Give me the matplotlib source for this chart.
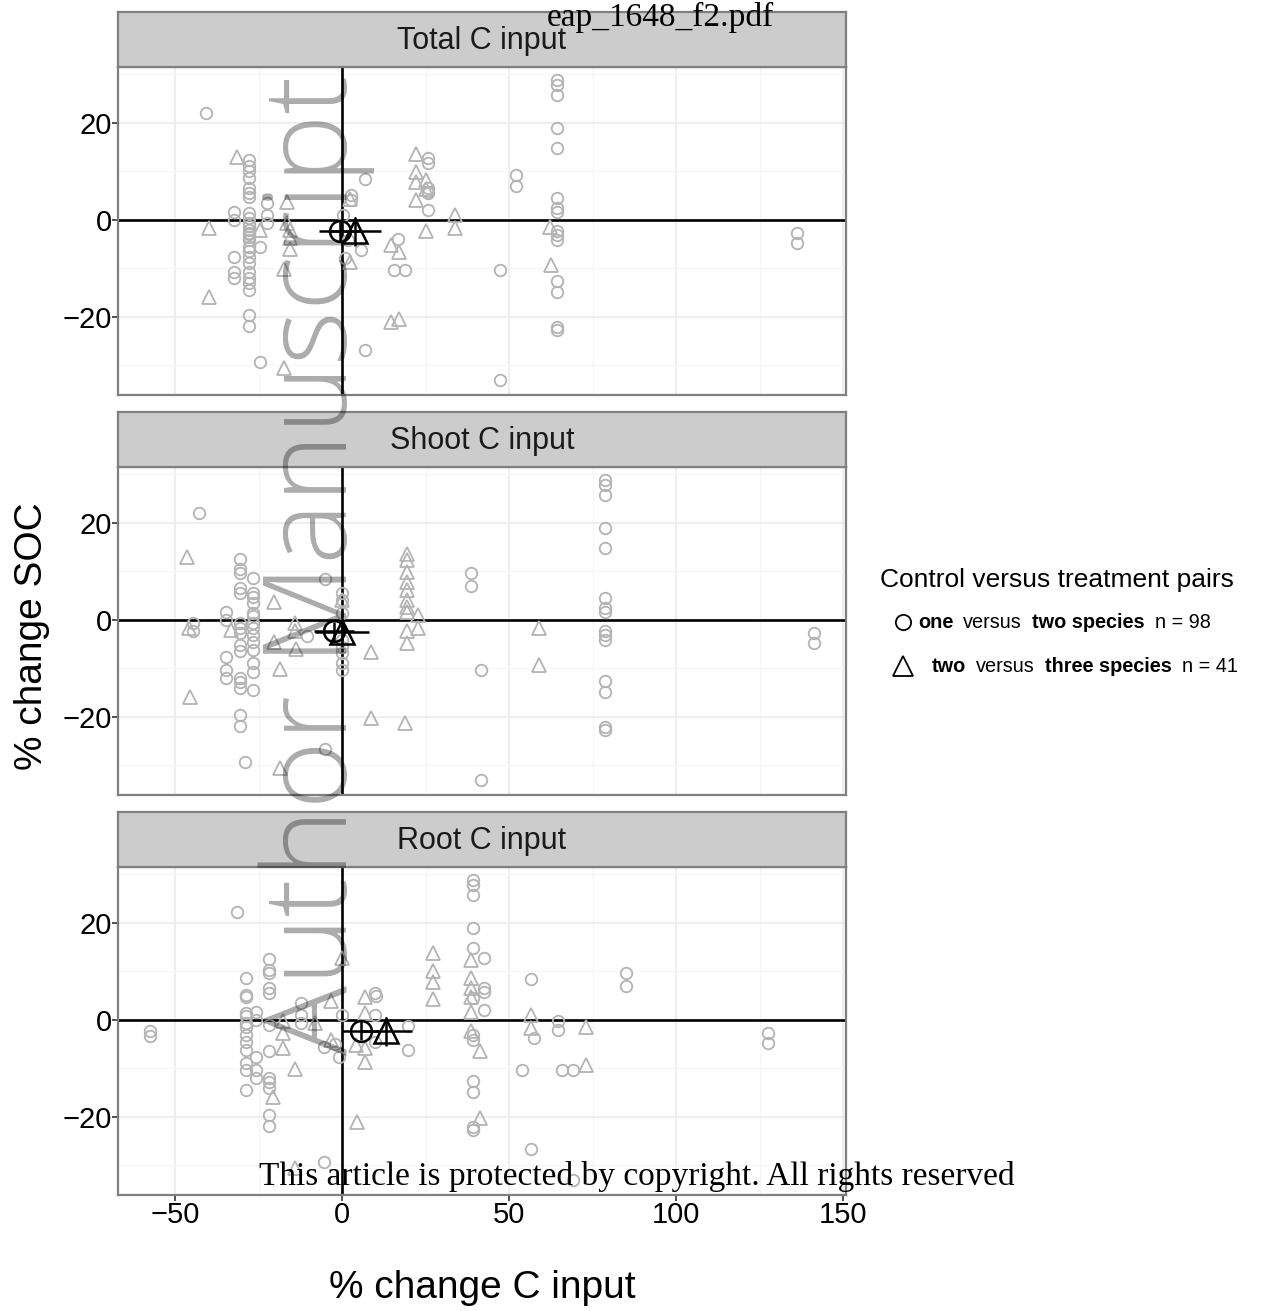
import matplotlib
matplotlib.use('Agg')
import matplotlib.pyplot as plt

# ---- data ----
panel_titles = ['Total C input', 'Shoot C input', 'Root C input']

total_circle_x = [-40.6] + [-28] * 26 + [-32.3] * 5 + [-22.4] * 3 + [-24.5] * 2 + \
    [2.8, 2.8, 0.2, 1.8, 0.8, 5.6, 7.0, 7.0, 16.6, 15.6, 18.8] + [25.7] * 6 + \
    [47.3, 47.3, 52.0, 52.0] + [64.3] * 15 + [136.1, 136.1]
total_circle_y = [22.1,
                  12.3, 11.0, 10.0, 8.6, 6.5, 5.5, 4.8, 1.4, 0.3, -0.6, -1.3, -2.0, -2.8, -3.5,
                  -4.2, -5.5, -6.5, -7.6, -8.9, -10.7, -12.0, -13.0, -14.4, -19.6, -21.8, -3.0,
                  1.7, 0.0, -7.6, -10.7, -12.0,
                  3.4, 1.0, -0.7,
                  -5.5, -29.4,
                  5.2, 4.0, 1.0, -4.1, -7.9, -6.2, 8.5, -26.8, -3.9, -10.4, -10.4,
                  12.7, 11.8, 6.5, 5.8, 5.5, 2.1,
                  -10.4, -33.0, 9.3, 6.9,
                  28.9, 27.8, 25.8, 18.9, 14.8, 4.5, 2.4, 1.7, -2.4, -3.1, -4.1, -12.7, -14.8, -22.0, -22.8,
                  -2.7, -4.7]
total_tri_x = [-31.6, -39.8, -39.8, -16.5, -16.5, -15.5, -15.5, -15.5, -17.4, -17.4, -24.5,
               2.5, 2.5, 14.6, 17.0, 14.6, 17.0, 22.1, 22.1, 22.1, 22.1, 25.2, 25.2, 25.2,
               33.7, 33.7, 62.3, 62.6]
total_tri_y = [12.9, -1.7, -15.9, 3.6, -0.7, -2.1, -3.8, -6.0, -10.2, -30.6, -2.1,
               4.3, -8.6, -5.2, -6.7, -21.0, -20.5, 13.6, 9.8, 7.7, 4.1, 8.2, 6.3, -2.4,
               1.0, -1.7, -1.4, -9.3]

shoot_circle_x = [-42.9] + [-30.6] * 15 + [-26.6] * 14 + [-34.8] * 5 + [-44.6] * 2 + \
    [-29.1, -5.2, -5.2, -10.4] + [0.0] * 8 + [38.5, 38.5, 41.7, 41.7] + [78.7] * 15 + [141.4, 141.4]
shoot_circle_y = [22.1,
                  12.5, 10.4, 9.6, 6.5, 5.5, -0.7, -1.7, -2.7, -5.2, -6.5, -12.0, -12.9, -14.1, -19.6, -21.8,
                  8.6, 5.5, 4.8, 3.4, 1.4, 0.7, -0.7, -1.7, -3.1, -4.5, -6.2, -8.9, -10.7, -14.4,
                  1.7, 0.0, -7.6, -10.4, -12.0,
                  -0.7, -2.2,
                  -29.4, 8.5, -26.7, -3.4,
                  5.5, 4.1, 1.4, -4.1, -5.5, -6.9, -8.9, -10.4,
                  9.6, 6.9, -10.4, -33.0,
                  28.9, 27.8, 25.8, 18.9, 14.8, 4.5, 2.4, 1.7, -2.4, -3.1, -4.1, -12.7, -14.8, -22.0, -22.8,
                  -2.7, -4.7]
shoot_tri_x = [-46.3, -45.9, -45.6, -33.3, -20.5, -20.5, -14.2, -14.2, -13.7, -18.7, -18.7,
               0.0, 8.8, 8.8, 18.8] + [19.3] * 10 + [22.8, 22.8, 59.1, 59.1]
shoot_tri_y = [12.9, -1.7, -15.9, -2.1, 3.6, -4.5, -0.7, -2.4, -6.0, -10.2, -30.6,
               4.1, -6.7, -20.3, -21.2,
               13.6, 12.4, 9.8, 7.7, 6.2, 4.1, 2.7, 1.7, -2.4, -4.8,
               1.0, -1.7, -1.7, -9.3]

root_circle_x = [-57.4, -57.4, -31.4] + [-28.9] * 13 + [-22.0] * 12 + [-25.9] * 5 + [-12.2] * 3 + \
    [-5.4, -5.4, -1.0, 0.0, -2.0, 9.8, 9.8, 9.8, 10.3, 19.8, 19.8] + [39.2] * 12 + [42.6] * 4 + \
    [56.6, 56.6, 57.6, 53.8, 64.6, 64.6, 65.8, 69.1, 69.1, 84.9, 84.9, 127.4, 127.4]
root_circle_y = [-2.4, -3.4, 22.2,
                 8.6, 5.2, 4.8, 1.4, 0.7, -0.7, -1.4, -3.1, -4.5, -6.2, -8.9, -10.4, -14.4,
                 12.5, 10.3, 9.6, 6.5, 5.5, -1.0, -6.5, -12.0, -12.9, -14.1, -19.6, -21.8,
                 1.7, 0.0, -7.6, -10.4, -12.0,
                 3.4, 1.0, -0.7,
                 -5.5, -29.4, -7.6, 1.0, -5.0, 5.5, 1.0, -4.5, 5.0, -1.2, -6.2,
                 28.9, 27.8, 25.8, 18.9, 14.8, 4.5, -3.1, -4.1, -12.7, -14.8, -22.0, -22.8,
                 12.7, 6.5, 5.8, 2.1,
                 8.5, -26.7, -3.8, -10.4, -0.3, -2.1, -10.4, -10.4, -33.0, 9.6, 7.0, -2.7, -4.7]
root_tri_x = [0.0, -3.2, -8.2, -17.7, -17.7, -17.7, -14.2, -20.7, -14.2, -3.2,
              6.8, 6.8, 4.3, 6.8, 6.8, 4.6, 27.2, 27.2, 27.2, 27.2] + [38.5] * 6 + \
    [41.2, 41.2, 56.6, 56.6, 73.1, 73.1]
root_tri_y = [12.7, 3.8, -0.7, -0.3, -2.7, -5.8, -10.2, -15.9, -30.6, -4.1,
              4.8, 1.4, -5.2, -5.8, -8.6, -21.0, 13.7, 10.0, 7.7, 4.3,
              12.4, 8.6, 6.5, 4.8, 1.7, -2.4,
              -6.5, -20.3, 1.0, -1.7, -1.4, -9.3]

# group means with error bars: (x, y, x error, y error)
circle_means = [(-0.5, -2.3, 6.5, 2.0), (-2.3, -2.4, 6.0, 2.0), (5.6, -2.2, 5.5, 2.0)]
tri_means = [(3.8, -2.4, 8.0, 3.0), (0.0, -2.6, 8.0, 3.0), (13.3, -2.4, 7.5, 3.0)]

panels_circle_x = [total_circle_x, shoot_circle_x, root_circle_x]
panels_circle_y = [total_circle_y, shoot_circle_y, root_circle_y]
panels_tri_x = [total_tri_x, shoot_tri_x, root_tri_x]
panels_tri_y = [total_tri_y, shoot_tri_y, root_tri_y]

# ---- figure ----
W, H = 1263, 1311
plt.rcParams['font.family'] = ['Liberation Sans', 'DejaVu Sans']
fig = plt.figure(figsize=(W / 100, H / 100), dpi=100)

left, right = 118, 846
tops = [67, 467, 867]
ph, sh = 328, 55
grey = '#b3b3b3'
border = '#7f7f7f'

for i in range(3):
    top = tops[i]
    ax = fig.add_axes([left / W, 1 - (top + ph) / H, (right - left) / W, ph / H])
    ax.set_xlim(-67.1, 150.9)
    ax.set_ylim(-36.1, 31.5)
    ax.set_xticks([-50, 0, 50, 100, 150])
    ax.set_xticks([-25, 25, 75, 125], minor=True)
    ax.set_yticks([-20, 0, 20])
    ax.set_yticks([-30, -10, 10, 30], minor=True)
    ax.grid(which='major', color='#ebebeb', lw=1.2, zorder=0)
    ax.grid(which='minor', color='#f6f6f6', lw=1.0, zorder=0)
    ax.set_axisbelow(True)
    for s in ax.spines.values():
        s.set_color(border)
        s.set_linewidth(1.6)
    ax.tick_params(which='major', length=4, width=1.2, color='#333333', labelsize=21, pad=0.5)
    ax.tick_params(which='minor', length=0)
    ax.set_yticklabels(['\u221220', '0', '20'])
    if i < 2:
        ax.tick_params(axis='x', which='major', labelbottom=False, length=0)
    else:
        ax.set_xticklabels(['\u221250', '0', '50', '100', '150'])

    ax.axhline(0, color='black', lw=1.9, zorder=2)
    ax.axvline(0, color='black', lw=1.9, zorder=2)

    ax.plot(panels_circle_x[i], panels_circle_y[i], 'o', ms=8.3, mfc='none', mec=grey, mew=1.3,
            ls='none', zorder=3)
    ax.plot(panels_tri_x[i], panels_tri_y[i], '^', ms=10, mfc='none', mec=grey, mew=1.3,
            ls='none', zorder=3)

    cx, cy, cxe, cye = circle_means[i]
    ax.errorbar(cx, cy, xerr=cxe, yerr=cye, fmt='o', ms=15, mfc='none', mec='black', mew=1.8,
                ecolor='black', elinewidth=1.8, capsize=0, zorder=5)
    tx, ty, txe, tye = tri_means[i]
    ax.errorbar(tx, ty, xerr=txe, yerr=tye, fmt='^', ms=17, mfc='none', mec='black', mew=1.8,
                ecolor='black', elinewidth=1.8, capsize=0, zorder=5)

    # facet strip
    sax = fig.add_axes([left / W, 1 - top / H, (right - left) / W, sh / H])
    sax.set_facecolor('#cccccc')
    sax.set_xticks([])
    sax.set_yticks([])
    for s in sax.spines.values():
        s.set_color(border)
        s.set_linewidth(1.6)
    sax.text(0.5, 0.47, panel_titles[i], ha='center', va='center', fontsize=22,
             color='#1a1a1a', transform=sax.transAxes)

# axis titles
fig.text(32 / W, 1 - 636 / H, '% change SOC', rotation=90, ha='center', va='center', fontsize=28)
fig.text(482 / W, 1 - 1288 / H, '% change C input', ha='center', va='center', fontsize=28)

# legend
fig.text(1057 / W, 1 - 580 / H, 'Control versus treatment pairs', ha='center', va='center',
         fontsize=19)
fig.lines.append(plt.Line2D([903 / W], [1 - 622 / H], marker='o', ms=11, mfc='none', mec='black',
                            mew=1.3, transform=fig.transFigure))
fig.lines.append(plt.Line2D([903 / W], [1 - 666 / H], marker='^', ms=15, mfc='none', mec='black',
                            mew=1.3, transform=fig.transFigure))

renderer = fig.canvas.get_renderer()


def rich_line(x_px, y_px, parts, size):
    x = x_px
    for txt, bold in parts:
        t = fig.text(x / W, 1 - y_px / H, txt, ha='left', va='center', fontsize=size,
                     fontweight='bold' if bold else 'normal')
        bb = t.get_window_extent(renderer)
        x += bb.width + 10


rich_line(918, 622, [('one', True), ('versus', False), ('two species', True), ('n = 98', False)], 14.3)
rich_line(932, 667, [('two', True), ('versus', False), ('three species', True), ('n = 41', False)], 14.3)

# page stamps of the source document
fig.text(660 / W, 1 - 17 / H, 'eap_1648_f2.pdf', ha='center', va='center', fontsize=24,
         family=['Liberation Serif', 'DejaVu Serif'])
fig.text(637 / W, 1 - 1176 / H, 'This article is protected by copyright. All rights reserved',
         ha='center', va='center', fontsize=24, family=['Liberation Serif', 'DejaVu Serif'])
fig.text(317 / W, 1 - 565 / H, 'Author Manuscript', rotation=90, ha='center', va='center',
         fontsize=84, fontweight='light', color='black', alpha=0.33,
         family=['Open Sans', 'DejaVu Sans'])

fig.savefig('out.png', dpi=100, facecolor='white')
